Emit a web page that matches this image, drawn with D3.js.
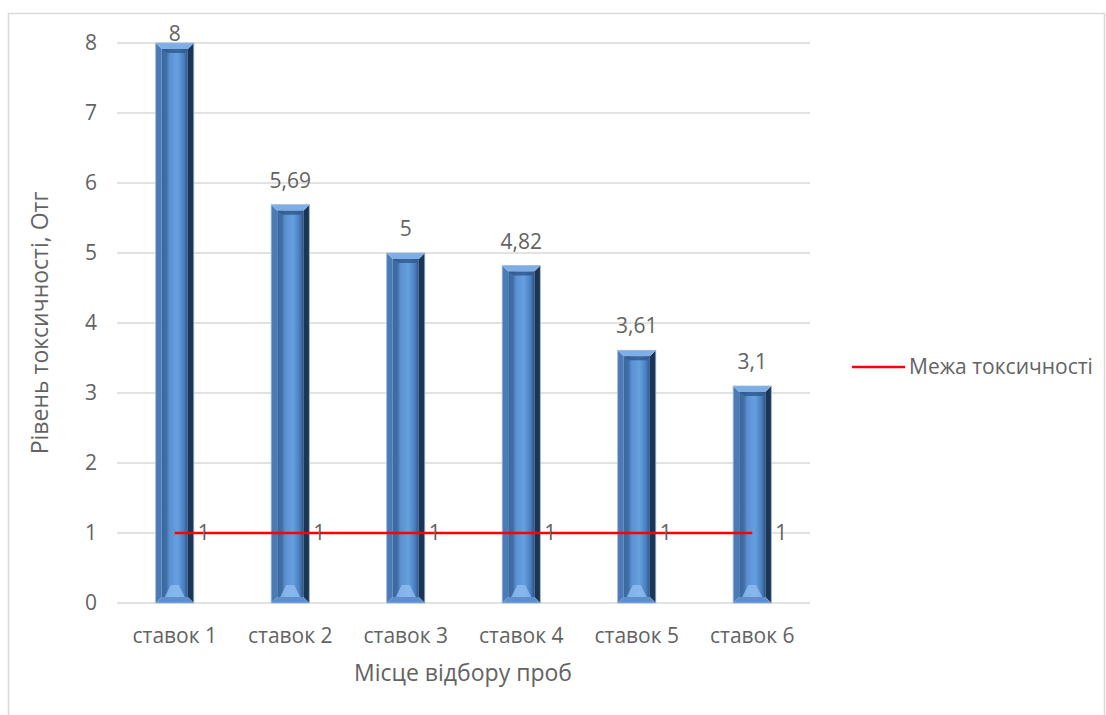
<!DOCTYPE html>
<html><head><meta charset="utf-8">
<script src="https://cdn.jsdelivr.net/npm/d3@7"></script>
<style>body{margin:0;background:#fff;}svg{display:block;font-family:"Open Sans",sans-serif;}</style>
</head><body>
<svg id="c" width="1106" height="715"></svg>
<script>
const categories = ["ставок 1","ставок 2","ставок 3","ставок 4","ставок 5","ставок 6"];
const values = [8, 5.69, 5, 4.82, 3.61, 3.1];
const valueLabels = ["8","5,69","5","4,82","3,61","3,1"];
const limitValues = [1,1,1,1,1,1];
const yTicks = [0,1,2,3,4,5,6,7,8];
const seriesName = "Межа токсичності";
const xTitle = "Місце відбору проб";
const yTitle = "Рівень токсичності, Отг";

(function(){
const svg = d3.select("#c");
const pL=117, pR=810, pT=43, pB=603;
const TXT = "#636363";
const x = d3.scaleBand().domain(categories).range([pL,pR]).paddingInner(0.67).paddingOuter(0.335);
const y = d3.scaleLinear().domain([0,8]).range([pB,pT]);

svg.append("rect").attr("x",8.5).attr("y",13.5).attr("width",1096).attr("height",710)
  .attr("fill","#fff").attr("stroke","#d9d9d9").attr("stroke-width",1.5);

const defs = svg.append("defs");
const g1 = defs.append("linearGradient").attr("id","face").attr("x1","0").attr("x2","1").attr("y1","0").attr("y2","0");
[[0,"#3b679c"],[0.18,"#3f6ea6"],[0.3,"#5b90d0"],[0.6,"#66a0e0"],[0.85,"#4a7fc0"],[1,"#2c5487"]].forEach(s=>g1.append("stop").attr("offset",s[0]).attr("stop-color",s[1]));

svg.append("g").selectAll("line").data(yTicks).join("line")
  .attr("x1",pL).attr("x2",pR).attr("y1",d=>y(d)).attr("y2",d=>y(d))
  .attr("stroke","#d9d9d9").attr("stroke-width",1.3);

svg.append("g").selectAll("text").data(yTicks).join("text")
  .attr("x",97).attr("y",d=>y(d)).attr("dy","0.35em").attr("text-anchor","end")
  .attr("font-size",21).attr("fill",TXT).text(d=>d);

const bw = x.bandwidth();
const b = 6;
const bars = svg.append("g").selectAll("g").data(values).join("g")
  .attr("transform",(d,i)=>`translate(${x(categories[i])},${y(d)})`);
bars.each(function(d){
  const g = d3.select(this);
  const h = pB - y(d);
  const w = bw;
  g.append("path").attr("d",`M0,0L${b},${b}L${b},${h-b}L0,${h}Z`).attr("fill","#4a7bb7");
  g.append("path").attr("d",`M${w},0L${w-b},${b}L${w-b},${h-b}L${w},${h}Z`).attr("fill","#1d3554");
  g.append("path").attr("d",`M0,0L${w},0L${w-b},${b}L${b},${b}Z`).attr("fill","#7eaee6");
  g.append("path").attr("d",`M0,${h}L${w},${h}L${w-b},${h-b}L${b},${h-b}Z`).attr("fill","#5c8fcf");
  g.append("rect").attr("x",b).attr("y",b).attr("width",w-2*b).attr("height",Math.max(0,h-2*b)).attr("fill","url(#face)");
  g.append("path").attr("d",`M${b},${b}L${w-b},${b}L${w-b-3},${b+4}L${b+6},${b+4}Z`).attr("fill","#2f5789").attr("opacity",0.8);
  g.append("path").attr("d",`M${b+3},${h-b}L${w-b-3},${h-b}L${w/2+4},${h-b-12}L${w/2-4},${h-b-12}Z`).attr("fill","#8fbdf0").attr("opacity",0.8);
  g.append("rect").attr("x",0).attr("y",0).attr("width",w).attr("height",h).attr("fill","none").attr("stroke","#9bb8dc").attr("stroke-width",0.8);
});

svg.append("g").selectAll("text").data(values).join("text")
  .attr("x",(d,i)=>x(categories[i])+bw/2).attr("y",d=>Math.max(y(d)-17, 41)).attr("text-anchor","middle")
  .attr("font-size",21).attr("fill",TXT).text((d,i)=>valueLabels[i]);

const cx = c => x(c)+bw/2;
const line = d3.line().x((d,i)=>cx(categories[i])).y(d=>y(d));
svg.append("path").datum(limitValues).attr("d",line).attr("fill","none").attr("stroke","#ff0000").attr("stroke-width",2.5);
svg.append("g").selectAll("text").data(limitValues).join("text")
  .attr("x",(d,i)=>cx(categories[i])+23).attr("y",d=>y(d)).attr("dy","0.35em")
  .attr("font-size",21).attr("fill",TXT).text(d=>d);

svg.append("g").selectAll("text").data(categories).join("text")
  .attr("x",d=>cx(d)).attr("y",643).attr("text-anchor","middle")
  .attr("font-size",21).attr("fill",TXT).text(d=>d);

svg.append("text").attr("x",463).attr("y",681).attr("text-anchor","middle")
  .attr("font-size",23).attr("fill",TXT).text(xTitle);
svg.append("text").attr("transform","translate(48,323) rotate(-90)").attr("text-anchor","middle")
  .attr("font-size",23).attr("fill",TXT).text(yTitle);

svg.append("line").attr("x1",852).attr("x2",905).attr("y1",367).attr("y2",367).attr("stroke","#ff0000").attr("stroke-width",2.5);
svg.append("text").attr("x",909).attr("y",367).attr("dy","0.35em").attr("font-size",21).attr("fill",TXT).text(seriesName);
})();
</script>
</body></html>
